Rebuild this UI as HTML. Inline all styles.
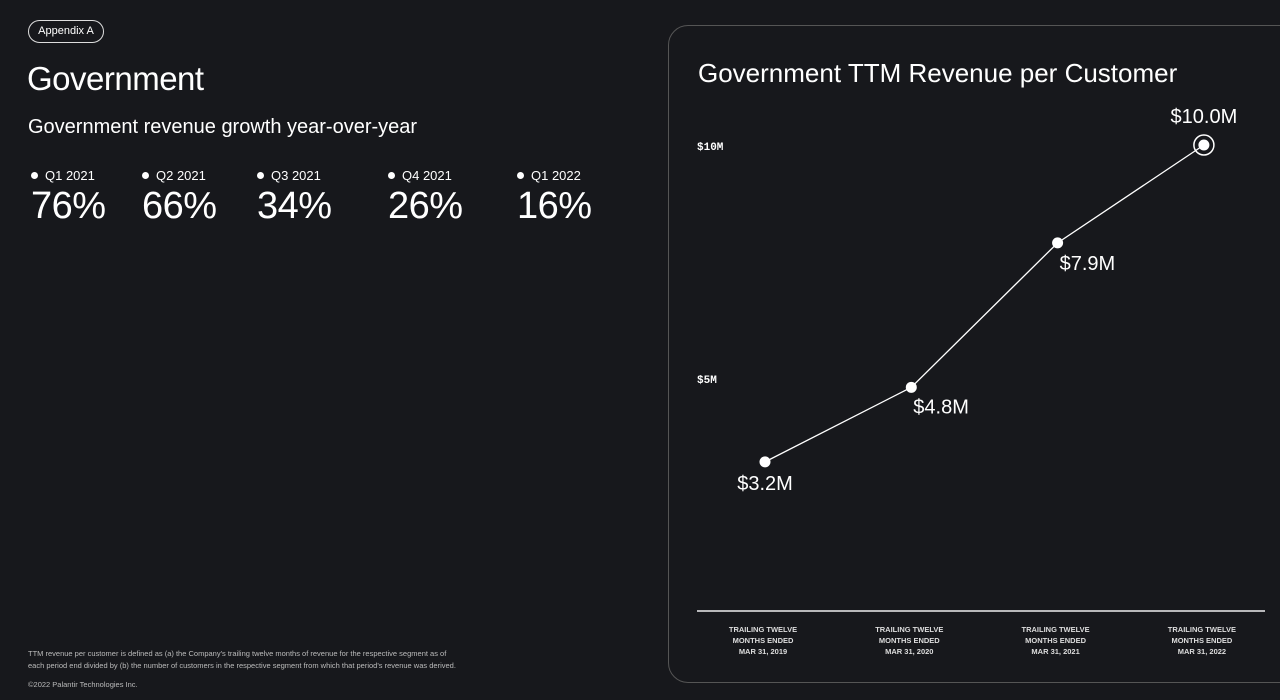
<!DOCTYPE html>
<html><head><meta charset="utf-8"><style>
body{margin:0;width:1280px;height:700px;background:#17181c;overflow:hidden;font-family:"Liberation Sans",sans-serif;color:#fff;position:relative}
.abs{position:absolute}
.pill{left:28px;top:20px;width:74px;height:21px;border:1px solid #ddd;border-radius:12px;font-size:11px;line-height:21px;text-align:center}
h1{margin:0;left:27px;top:60px;font-size:33px;font-weight:normal;letter-spacing:-0.5px}
.sub{left:28px;top:116px;font-size:20px}
.stat{top:168px}
.stat .q{font-size:13px}
.stat .q:before{content:"";display:inline-block;width:7px;height:7px;border-radius:50%;background:#fff;margin-right:7px;vertical-align:1px}
.stat .v{font-size:38px;margin-top:2px;letter-spacing:-0.5px}
.note{left:28px;top:648px;font-size:7.5px;color:#bbb;line-height:12px}
.copy{left:28px;top:680px;font-size:7.5px;color:#bbb}
.panel{left:668px;top:25px;width:640px;height:658px;border:1.5px solid #555;border-radius:20px;box-sizing:border-box}
</style></head><body>
<div class="abs pill">Appendix A</div>
<h1 class="abs">Government</h1>
<div class="abs sub">Government revenue growth year-over-year</div>
<div class="abs stat" style="left:31px"><div class="q">Q1 2021</div><div class="v">76%</div></div>
<div class="abs stat" style="left:142px"><div class="q">Q2 2021</div><div class="v">66%</div></div>
<div class="abs stat" style="left:257px"><div class="q">Q3 2021</div><div class="v">34%</div></div>
<div class="abs stat" style="left:388px"><div class="q">Q4 2021</div><div class="v">26%</div></div>
<div class="abs stat" style="left:517px"><div class="q">Q1 2022</div><div class="v">16%</div></div>
<div class="abs note">TTM revenue per customer is defined as (a) the Company's trailing twelve months of revenue for the respective segment as of<br>each period end divided by (b) the number of customers in the respective segment from which that period's revenue was derived.</div>
<div class="abs copy">©2022 Palantir Technologies Inc.</div>
<div class="abs panel"></div>
<svg class="abs" style="left:0;top:0" width="1280" height="700" id="chart">
<text x="698" y="82" font-size="26" fill="#fff" font-family="Liberation Sans, sans-serif">Government TTM Revenue per Customer</text>
</svg>
<script>
const categories=["MAR 31, 2019","MAR 31, 2020","MAR 31, 2021","MAR 31, 2022"];
const values=[3.2,4.8,7.9,10.0];
const valueLabels=["$3.2M","$4.8M","$7.9M","$10.0M"];
const yTicks=[5,10];
const yTickLabels=["$5M","$10M"];
const svg=document.getElementById('chart');
const NS='http://www.w3.org/2000/svg';
const x=i=>765+i*146.3;
const y=v=>611-v*46.6;
function mk(t,a){const e=document.createElementNS(NS,t);for(const k in a)e.setAttribute(k,a[k]);svg.appendChild(e);return e;}
const ax=mk('line',{x1:697,x2:1265,y1:611,y2:611,stroke:'#eee','stroke-width':1.5});


yTicks.forEach((t,i)=>{const e=mk('text',{x:697,y:y(t)+5,'font-size':11,fill:'#fff','font-weight':'bold','font-family':'Liberation Mono, monospace'});e.textContent=yTickLabels[i];

});
categories.forEach((c,i)=>{["TRAILING TWELVE","MONTHS ENDED",c].forEach((l,j)=>{const e=mk('text',{x:x(i)-2,y:632+j*11,'font-size':7.5,fill:'#ddd','font-weight':'bold','text-anchor':'middle','font-family':'Liberation Sans, sans-serif'});e.textContent=l;

});});
const pts=values.map((v,i)=>x(i)+','+y(v)).join(' ');
const pl=mk('polyline',{points:pts,fill:'none',stroke:'#fff','stroke-width':1.3});


const off=[[0,28,'middle'],[2,26,'start'],[2,27,'start'],[0,-22,'middle']];
values.forEach((v,i)=>{
 if(i===values.length-1){const r=mk('circle',{cx:x(i),cy:y(v),r:10,fill:'none',stroke:'#fff','stroke-width':1.5});
 
 }
 const c=mk('circle',{cx:x(i),cy:y(v),r:5.5,fill:'#fff'});
 
 
 const t=mk('text',{x:x(i)+off[i][0],y:y(v)+off[i][1],'font-size':20,fill:'#fff','text-anchor':off[i][2],'font-family':'Liberation Sans, sans-serif'});
 t.textContent=valueLabels[i];
 
 
});
</script>
</body></html>
